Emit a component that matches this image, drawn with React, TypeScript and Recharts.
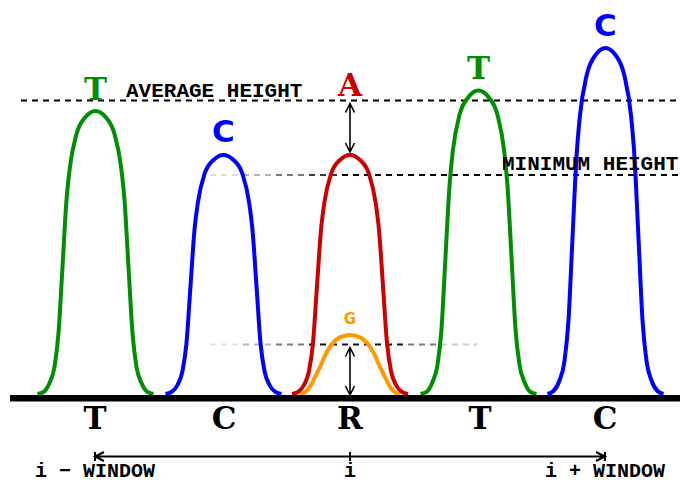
import { ComposedChart, Line, XAxis, YAxis, ReferenceLine, ReferenceDot } from 'recharts'

// peak traces: [position, signal]
const peakT1: [number, number][] = [[37.5, 0], [43.5, 2], [49.5, 11], [54.5, 27], [58.5, 61], [62.5, 127], [66.5, 194], [69.8, 226], [76.5, 260], [85.5, 277], [95.5, 283], [105.5, 277], [114.5, 260], [121.2, 226], [124.5, 194], [128.5, 127], [132.5, 61], [136.5, 27], [141.5, 11], [147.5, 2], [153.5, 0]]
const peakC1: [number, number][] = [[165.5, 0], [171.5, 2], [177.5, 9], [182.5, 23], [186.5, 51], [190.5, 108], [194.5, 164], [197.8, 191], [204.5, 220], [213.5, 234], [223.5, 239], [233.5, 234], [242.5, 220], [249.2, 191], [252.5, 164], [256.5, 108], [260.5, 51], [264.5, 23], [269.5, 9], [275.5, 2], [281.5, 0]]
const peakA: [number, number][] = [[292, 0], [298, 2], [304, 9], [309, 23], [313, 51], [317, 108], [321, 164], [324.3, 191], [331, 220], [340, 234], [350, 239], [360, 234], [369, 220], [375.7, 191], [379, 164], [383, 108], [387, 51], [391, 23], [396, 9], [402, 2], [408, 0]]
const peakG: [number, number][] = [[300, 0], [304, 1], [308, 4.5], [312, 11], [316, 19], [320, 27], [326, 40.5], [332, 50], [338, 55.5], [344, 58], [350, 59], [356, 58], [362, 55.5], [368, 50], [374, 40.5], [380, 27], [384, 19], [388, 11], [392, 4.5], [396, 1], [400, 0]]
const peakT2: [number, number][] = [[420.5, 0], [426.5, 2], [432.5, 12], [437.5, 29], [441.5, 65], [445.5, 137], [449.5, 208], [452.8, 243], [459.5, 279], [468.5, 297], [478.5, 303.5], [488.5, 297], [497.5, 279], [504.2, 243], [507.5, 208], [511.5, 137], [515.5, 65], [519.5, 29], [524.5, 12], [530.5, 2], [536.5, 0]]
const peakC2: [number, number][] = [[547.5, 0], [553.5, 3], [559.5, 13.5], [564.5, 33], [568.5, 74], [572.5, 156], [576.5, 237], [579.8, 277], [586.5, 318], [595.5, 339], [605.5, 346], [615.5, 339], [624.5, 318], [631.2, 277], [634.5, 237], [638.5, 156], [642.5, 74], [646.5, 33], [651.5, 13.5], [657.5, 3], [663.5, 0]]

const calls = ['T', 'C', 'R', 'T', 'C']
const callPositions = [95, 224, 350, 480, 605]

const averageHeight = 293.5
const minimumHeight = 219
const secondaryHeight = 49.5

const windowStart = 95
const windowCenter = 350
const windowEnd = 605
const windowLabels = ['i \u2212 WINDOW', 'i', 'i + WINDOW']

const GREEN = '#008f00'
const BLUE = '#0000ff'
const RED = '#cc0000'
const ORANGE = '#ff9900'
const MONO = '"Liberation Mono", "DejaVu Sans Mono", monospace'
const SLAB = '"DejaVu Serif", serif'
const SANS = '"DejaVu Sans", sans-serif'

const toData = (pts: [number, number][]) => pts.map(([x, y]) => ({ x, y }))
const peakMax = (pts: [number, number][]) => Math.max(...pts.map((p) => p[1]))

const text =
  (s: string, color: string, size: number, family = MONO, anchor: 'start' | 'middle' = 'middle') =>
  (p: any) => (
    <text x={p.cx} y={p.cy} textAnchor={anchor} fill={color} fontSize={size} fontFamily={family} fontWeight="bold">
      {s}
    </text>
  )

const arrow = (startHead: boolean, endHead: boolean) => (p: any) => {
  const { x1, y1, x2, y2 } = p
  const len = Math.hypot(x2 - x1, y2 - y1) || 1
  const ux = (x2 - x1) / len
  const uy = (y2 - y1) / len
  const s = 9
  const h = 4.5
  const head = (tx: number, ty: number, dx: number, dy: number) =>
    `M${tx - dx * s - dy * h},${ty - dy * s + dx * h}L${tx},${ty}L${tx - dx * s + dy * h},${ty - dy * s - dx * h}`
  let d = `M${x1},${y1}L${x2},${y2}`
  if (endHead) d += head(x2, y2, ux, uy)
  if (startHead) d += head(x1, y1, -ux, -uy)
  return <path d={d} stroke="#000" strokeWidth={p.strokeWidth} fill="none" />
}

const seg = (x1: number, x2: number, y: number) => [{ x: x1, y }, { x: x2, y }] as any

const peaks: [[number, number][], string][] = [
  [peakT1, GREEN],
  [peakC1, BLUE],
  [peakG, ORANGE],
  [peakA, RED],
  [peakT2, GREEN],
  [peakC2, BLUE],
]

export default function App() {
  const minSegs: [number, number, string][] = [[210, 243, '#dedede'], [243, 276, '#b4b4b4'], [276, 309, '#7a7a7a'], [309, 342, '#3a3a3a'], [342, 680, '#000']]
  const secSegs: [number, number, string][] = [[210, 243, '#e2e2e2'], [243, 276, '#b8b8b8'], [276, 309, '#7a7a7a'], [309, 408, '#111'], [408, 441, '#7a7a7a'], [441, 477, '#cccccc']]
  return (
    <div style={{ position: 'absolute', left: 0, top: 0 }}>
      <ComposedChart width={680} height={483} margin={{ top: 0, right: 0, bottom: 0, left: 0 }}>
        <XAxis type="number" dataKey="x" domain={[0, 680]} hide allowDataOverflow />
        <YAxis type="number" domain={[-89, 394]} hide allowDataOverflow />

        <ReferenceLine segment={seg(21, 680, averageHeight)} stroke="#000" strokeWidth={2} strokeDasharray="6 5" />
        {minSegs.map(([a, b, c]) => (
          <ReferenceLine key={'m' + a} segment={seg(a, b, minimumHeight)} stroke={c} strokeWidth={2} strokeDasharray="6 5" />
        ))}
        {secSegs.map(([a, b, c]) => (
          <ReferenceLine key={'s' + a} segment={seg(a, b, secondaryHeight)} stroke={c} strokeWidth={2} strokeDasharray="6 5" />
        ))}

        {peaks.map(([pts, color], i) => (
          <Line
            key={'p' + i}
            data={toData(pts)}
            dataKey="y"
            type="monotone"
            stroke={color}
            strokeWidth={4}
            dot={false}
            activeDot={false}
            isAnimationActive={false}
          />
        ))}

        <ReferenceLine segment={seg(10, 680, -4.3)} stroke="#000" strokeWidth={6.5} />

        {/* height arrows */}
        <ReferenceLine segment={[{ x: 350, y: averageHeight - 3 }, { x: 350, y: peakMax(peakA) + 3 }] as any} stroke="#000" strokeWidth={1.6} shape={arrow(true, true)} />
        <ReferenceLine segment={[{ x: 350, y: secondaryHeight - 3 }, { x: 350, y: -1 }] as any} stroke="#000" strokeWidth={1.6} shape={arrow(true, true)} />

        {/* window */}
        <ReferenceLine segment={seg(windowStart, windowEnd, -62.5)} stroke="#000" strokeWidth={2} shape={arrow(true, true)} />
        {[windowStart, windowCenter, windowEnd].map((x) => (
          <ReferenceLine key={'t' + x} segment={[{ x, y: -58 }, { x, y: -67 }] as any} stroke="#000" strokeWidth={2} />
        ))}
        {[windowStart, windowCenter, windowEnd].map((x, i) => (
          <ReferenceDot key={'w' + x} x={x} y={-83} r={1} shape={text(windowLabels[i], '#000', 20)} />
        ))}

        {calls.map((c, i) => (
          <ReferenceDot key={'c' + i} x={callPositions[i]} y={-35} r={1} shape={text(c, '#000', 31, SLAB)} />
        ))}

        <ReferenceDot x={95.5} y={peakMax(peakT1) + 11} r={1} shape={text('T', GREEN, 31, SLAB)} />
        <ReferenceDot x={223.5} y={peakMax(peakC1) + 13} r={1} shape={text('C', BLUE, 31, SANS)} />
        <ReferenceDot x={350} y={averageHeight + 5} r={1} shape={text('A', RED, 31, SLAB)} />
        <ReferenceDot x={350} y={peakMax(peakG) + 11} r={1} shape={text('G', ORANGE, 15, SANS)} />
        <ReferenceDot x={478.5} y={peakMax(peakT2) + 12} r={1} shape={text('T', GREEN, 31, SLAB)} />
        <ReferenceDot x={605.5} y={peakMax(peakC2) + 12.5} r={1} shape={text('C', BLUE, 31, SANS)} />

        <ReferenceDot x={126} y={averageHeight + 4} r={1} shape={text('AVERAGE HEIGHT', '#000', 21, MONO, 'start')} />
        <ReferenceDot x={502} y={minimumHeight + 5} r={1} shape={text('MINIMUM HEIGHT', '#000', 21, MONO, 'start')} />
      </ComposedChart>
    </div>
  )
}
